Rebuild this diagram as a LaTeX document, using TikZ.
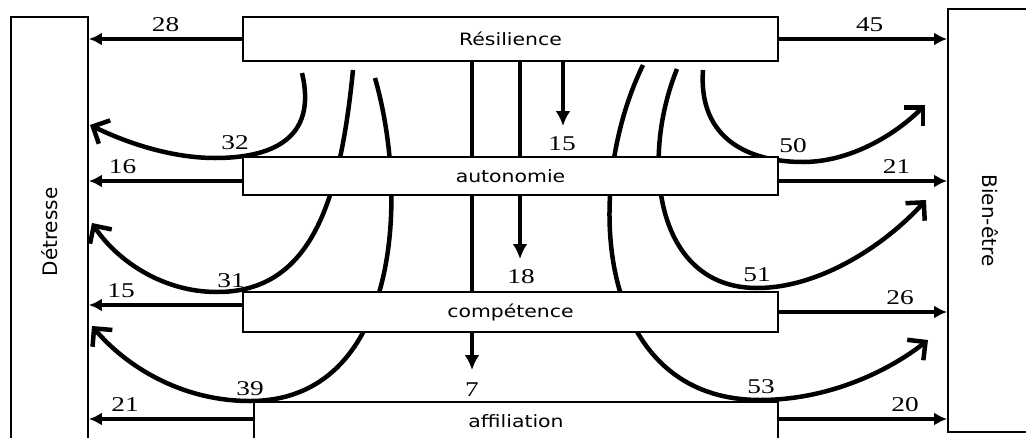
\documentclass[tikz,border=0pt]{standalone}
\usepackage{fontspec}
\usetikzlibrary{arrows.meta}
\newfontfamily\stagefont[FakeStretch=1.2]{DejaVu Sans}
\newfontfamily\numfont[FakeStretch=1.3]{Liberation Serif}
\newfontfamily\sidefont{DejaVu Sans}

\tikzset{
  stage/.style={draw,line width=1.8pt,fill=white,inner sep=0pt,
    font=\stagefont\fontsize{17}{20}\selectfont},
  side/.style={draw,line width=1.8pt,inner sep=0pt,
    font=\sidefont\fontsize{20}{22}\selectfont},
  num/.style={inner sep=0pt,font=\numfont\fontsize{21}{23}\selectfont},
  flow/.style={line width=3.5pt,-{Latex[length=13pt,width=13pt]}},
  drop/.style={line width=4.5pt,-{Latex[length=15pt,width=15pt]}},
  swing/.style={line width=4.5pt,-{Straight Barb[length=13pt,width=26pt]}}
}

\begin{document}
\begin{tikzpicture}[x=1pt,y=-1pt]
  \clip (0,0) rectangle (1026,437);

  % side boxes (rotated, so .south is the inner edge)
  \node[side,rotate=90,minimum width=430pt,minimum height=77pt] (det) at (49.5,232) {Détresse};
  \node[side,rotate=-90,minimum width=423pt,minimum height=84pt] (bien) at (990,220.5) {Bien-être};

  % top stage
  \node[stage,minimum width=535pt,minimum height=44pt] (res) at (510.5,39) {Résilience};

  % straight drops
  \coordinate (d15) at (563,126);
  \coordinate (d18) at (520,259);
  \coordinate (d7) at (472,370);
  \draw[drop] (res.south -| d15) -- (d15);
  \draw[drop] (res.south -| d18) -- (d18);
  \draw[drop] (res.south -| d7) -- (d7);

  % curved flows to Détresse
  \draw[swing] (302,73) .. controls (318,140) and (270,158) .. (215,158)
    .. controls (170,158) and (125,142) .. (90,125);
  \draw[swing] (353,70) .. controls (340,200) and (312,292) .. (217,292)
    .. controls (160,292) and (115,258) .. (92,223);
  \draw[swing] (375,78) .. controls (410,200) and (398,401) .. (250,401)
    .. controls (180,401) and (125,365) .. (92,326);

  % curved flows to Bien-être
  \draw[swing] (703,70) .. controls (698,140) and (750,162) .. (803,162)
    .. controls (850,162) and (895,135) .. (925,105);
  \draw[swing] (677,69) .. controls (640,160) and (655,288) .. (757,288)
    .. controls (820,288) and (885,245) .. (926,200);
  \draw[swing] (643,65) .. controls (582,190) and (595,400) .. (760,400)
    .. controls (830,400) and (890,370) .. (928,340);

  % lower stages
  \node[stage,minimum width=535pt,minimum height=38pt] (auto) at (510.5,176) {autonomie};
  \node[stage,minimum width=535pt,minimum height=40pt] (comp) at (510.5,312) {compétence};
  \node[stage,minimum width=524pt,minimum height=38pt] (aff) at (516,421) {affiliation};

  % horizontal flows
  \draw[flow] (res.west) -- (res.west -| det.south) node[num,above=6pt,midway] (l28) {28};
  \draw[flow] ([yshift=-5pt]auto.west) -- ([yshift=-5pt]auto.west -| det.south) node[num,above=6pt,pos=0.78] (l16) {16};
  \draw[flow] ([yshift=7pt]comp.west) -- ([yshift=7pt]comp.west -| det.south) node[num,above=6pt,pos=0.79] (l15a) {15};
  \draw[flow] ([yshift=2pt]aff.west) -- ([yshift=2pt]aff.west -| det.south) node[num,above=6pt,pos=0.78] (l21a) {21};
  \draw[flow] (res.east) -- (res.east -| bien.south) node[num,above=6pt,pos=0.54] (l45) {45};
  \draw[flow] ([yshift=-5pt]auto.east) -- ([yshift=-5pt]auto.east -| bien.south) node[num,above=6pt,pos=0.7] (l21b) {21};
  \draw[flow] (comp.east) -- (comp.east -| bien.south) node[num,above=6pt,pos=0.72] (l26) {26};
  \draw[flow] ([yshift=2pt]aff.east) -- ([yshift=2pt]aff.east -| bien.south) node[num,above=6pt,pos=0.75] (l20) {20};

  % labels of the curves and drops
  \node[num] (l32) at (235,143) {32};
  \node[num] (l31) at (231,281) {31};
  \node[num] (l39) at (250,389) {39};
  \node[num] (l50) at (793,146) {50};
  \node[num] (l51) at (757,275) {51};
  \node[num] (l53) at (761,387) {53};
  \node[num] (l15b) at (562,144) {15};
  \node[num] (l18) at (521,277) {18};
  \node[num] (l7) at (472,390) {7};
\end{tikzpicture}
\end{document}
